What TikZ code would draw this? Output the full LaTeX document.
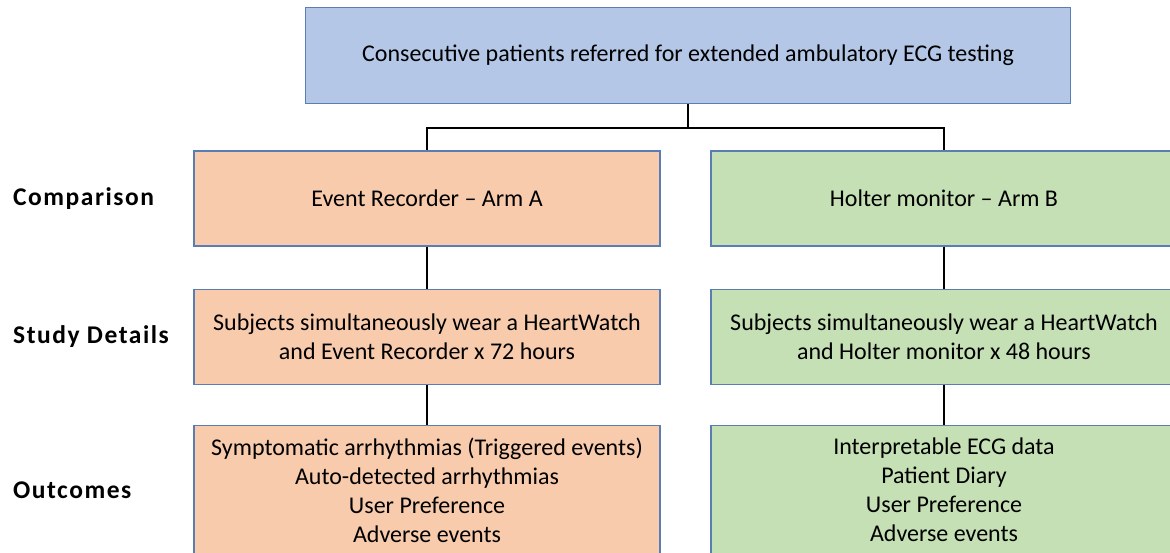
\documentclass[tikz,border=0pt]{standalone}
\usepackage{fontspec}
\setmainfont{Carlito}
\usepackage{tikz}
\usetikzlibrary{positioning}
\usetikzlibrary{calc}
\definecolor{topblue}{HTML}{B4C7E7}
\definecolor{armorange}{HTML}{F8CBAD}
\definecolor{armgreen}{HTML}{C5E0B4}
\definecolor{boxline}{HTML}{5B7DB5}
\tikzstyle{box} = [rectangle,draw=boxline,line width=1.2pt,align=center,inner sep=0pt,minimum width=466pt]
\tikzstyle{boxa} = [box,fill=armorange]
\tikzstyle{boxb} = [box,fill=armgreen]
\tikzstyle{rowlabel} = [anchor=west,inner sep=0pt,font={\fontsize{25.5}{29}\selectfont\bfseries\addfontfeature{LetterSpace=6}}]

\begin{document}
\begin{tikzpicture}
	[x=1pt,y=-1pt,font={\fontsize{24}{29}\selectfont},node distance=40pt]
	\tikzstyle{conn}=[line width=2.4pt,black];
	\useasboundingbox (0,0) rectangle (1170,552);
	\coordinate (margin) at (13,0);
	\node (0) [box,fill=topblue,minimum width=765pt,minimum height=96pt] at (688,55.5) {Consecutive patients referred for extended ambulatory ECG testing};
	\node (a1) [boxa,minimum height=95pt] at (427,198.5) {Event Recorder -- Arm A};
	\node (a2) [boxa,minimum height=95pt,below=42pt of a1] {Subjects simultaneously wear a HeartWatch\\and Event Recorder x 72 hours};
	\node (a3) [boxa,minimum height=129pt,below=of a2] {Symptomatic arrhythmias (Triggered events)\\Auto-detected arrhythmias\\User Preference\\Adverse events};
	\node (b1) [boxb,minimum height=95pt] at (944,198.5) {Holter monitor -- Arm B};
	\node (b2) [boxb,minimum height=95pt,below=42pt of b1] {Subjects simultaneously wear a HeartWatch\\and Holter monitor x 48 hours};
	\node (b3) [boxb,minimum height=129pt,below=of b2] {Interpretable ECG data\\Patient Diary\\User Preference\\Adverse events};
	\node (l1) [rowlabel] at (margin |- a1) {Comparison};
	\node (l2) [rowlabel] at (margin |- a2) {Study Details};
	\node (l3) [rowlabel] at (margin |- a3) {Outcomes};
	\draw[conn] (0.south) -- ++(0,24) coordinate (split);
	\draw[conn] (split) -| (a1.north);
	\draw[conn] (split) -| (b1.north);
	\draw[conn] (a1) -- (a2);
	\draw[conn] (a2) -- (a3);
	\draw[conn] (b1) -- (b2);
	\draw[conn] (b2) -- (b3);
\end{tikzpicture}
\end{document}
